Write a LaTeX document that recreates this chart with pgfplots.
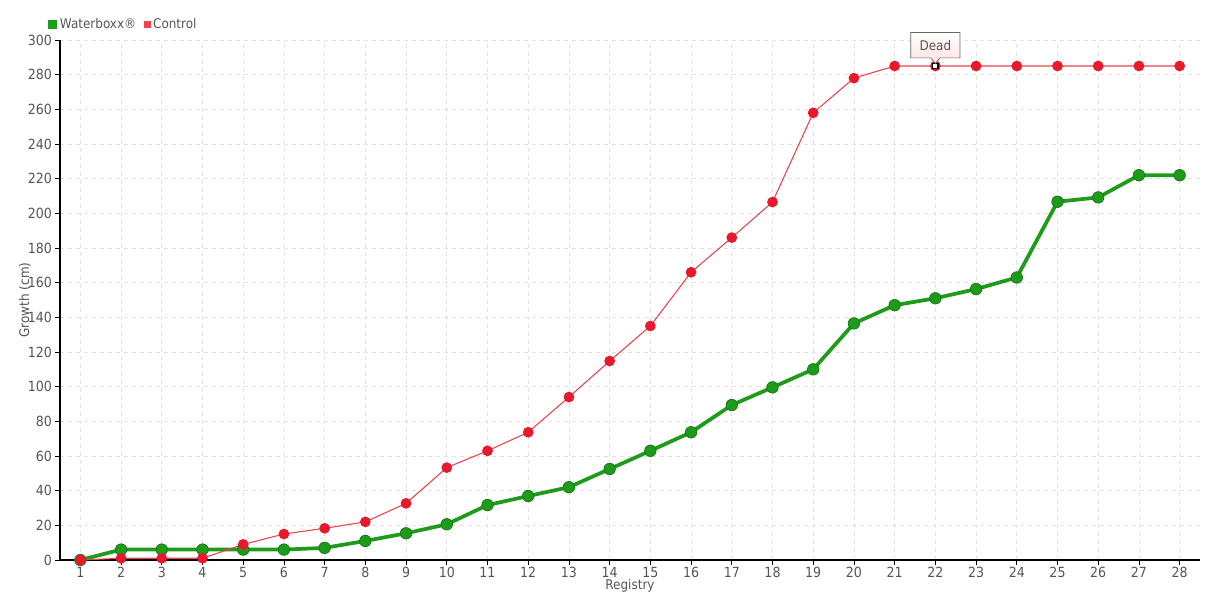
\documentclass[border=0pt]{standalone}
\usepackage{pgfplots}
\pgfplotsset{compat=1.18}
\usepackage{fontspec}
\setmainfont{DejaVu Sans Condensed}
\usetikzlibrary{shapes.callouts,calc}
\definecolor{wgreen}{HTML}{1F9B1C}
\definecolor{wgreendk}{HTML}{187A16}
\definecolor{cred}{HTML}{E8192C}
\definecolor{credline}{HTML}{F0414F}
\definecolor{gridc}{HTML}{E2E2E2}
\definecolor{txt}{HTML}{555555}
\begin{document}
\begin{tikzpicture}
\begin{axis}[
  name=ax,
  scale only axis,
  width=855pt, height=390pt,
  xmin=0.5, xmax=28.5,
  ymin=0, ymax=300,
  xtick={1,...,28},
  ytick={0,20,...,300},
  axis x line*=bottom,
  axis y line*=left,
  axis line style={black, line width=0.8pt},
  tick style={black, line width=0.6pt},
  major tick length=3.5pt,
  tick align=outside,
  grid=major,
  major grid style={gridc, dash pattern=on 3pt off 3pt, line width=0.6pt},
  ticklabel style={font=\fontsize{10.5}{12}\selectfont, text=txt},
  /pgf/number format/assume math mode=true,
  xticklabel style={yshift=1.5pt},
  yticklabel style={xshift=1pt},
  xlabel={Registry},
  ylabel={Growth (cm)},
  label style={font=\fontsize{10}{12}\selectfont, text=txt},
  xlabel style={yshift=5.5pt},
  ylabel style={yshift=-9pt},
  clip=false,
  legend style={at={(0,1)}, anchor=south west, xshift=-9pt, yshift=5pt, draw=none, fill=none,
    legend columns=-1, font=\fontsize{10}{12}\selectfont, text=txt,
    /tikz/every even column/.append style={column sep=4pt}, inner sep=0pt},
  legend image code/.code={\fill[#1] (0pt,-2pt) rectangle (4pt,2pt);},
]
\addplot[wgreen, line width=2.8pt, mark=*, mark size=4.3pt,
  mark options={fill=wgreen, draw=wgreendk, line width=0.6pt}]
  coordinates {
  (1,0) (2,6) (3,6) (4,6) (5,6) (6,6) (7,7) (8,11) (9,15.4) (10,20.6)
  (11,31.7) (12,36.9) (13,42) (14,52.5) (15,63) (16,73.7) (17,89.4) (18,99.6)
  (19,110) (20,136.5) (21,147) (22,151) (23,156.3) (24,163) (25,206.7)
  (26,209.2) (27,222) (28,222)};
\addlegendentry{Waterboxx\textregistered}
\addplot[credline, line width=0.8pt, mark=*, mark size=3.6pt,
  mark options={fill=cred, draw=cred}]
  coordinates {
  (1,0) (2,1) (3,1) (4,1) (5,9) (6,15) (7,18.3) (8,22) (9,32.7) (10,53.3)
  (11,63) (12,73.7) (13,94) (14,114.8) (15,135) (16,166) (17,186) (18,206.5)
  (19,258) (20,278) (21,285) (22,285) (23,285) (24,285) (25,285) (26,285)
  (27,285) (28,285)};
\addlegendentry{Control}
\addplot[only marks, mark=square*, mark size=2pt, mark options={fill=white, draw=black, line width=0.9pt}, forget plot]
  coordinates {(22,285)};
\coordinate (dead) at (axis cs:22,286.5);
\coordinate (deadbox) at (axis cs:22,297);
\end{axis}
\node[rectangle callout, callout absolute pointer={(dead)}, draw=gray!80!black, line width=0.5pt,
  top color=white, bottom color=red!12, minimum width=37pt, minimum height=19pt,
  font=\fontsize{10}{12}\selectfont, text=txt, inner sep=2pt] at (deadbox) {Dead};
\path[use as bounding box] ($(ax.south west)+(-45pt,-30pt)$) rectangle ($(ax.north east)+(15pt,30pt)$);
\end{tikzpicture}
\end{document}
